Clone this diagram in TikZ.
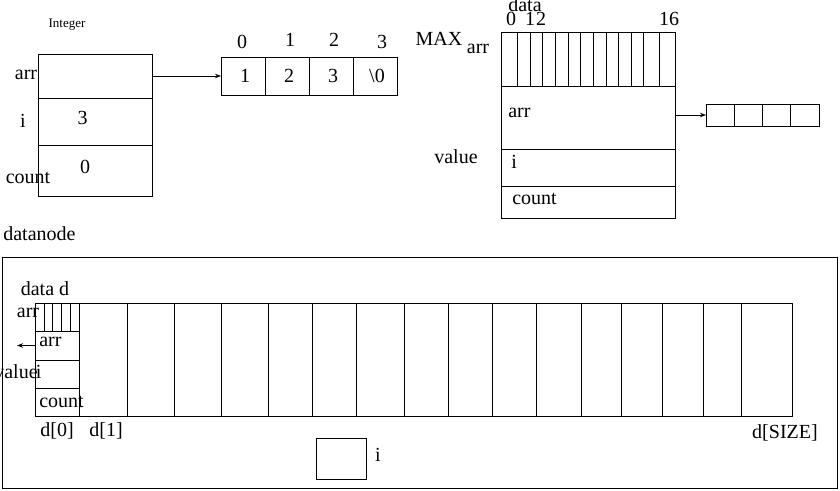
\documentclass[tikz,border=0pt]{standalone}
\usepackage{fontspec}
\setmainfont{Liberation Serif}
\usetikzlibrary{arrows.meta,positioning}

\begin{document}
\begin{tikzpicture}[x=1pt,y=-1pt,line width=0.7pt,
    box/.style={draw,inner sep=0pt,outer sep=0pt},
    txt/.style={inner sep=0pt,font=\fontsize{20}{24}\selectfont},
    ptr/.style={-{Stealth[length=6pt,width=4.5pt]}}]
    \useasboundingbox (0,0) rectangle (840,490);

    % Integer struct
    \node[txt,font=\fontsize{13}{15}\selectfont] (inttitle) at (67,25) {Integer};
    \node[box,minimum width=114pt,minimum height=44pt] (intarr) at (95,76) {};
    \node[box,minimum width=114pt,minimum height=47pt,below=0pt of intarr] (inti) {};
    \node[box,minimum width=114pt,minimum height=51pt,below=0pt of inti] (intcount) {};
    \node[txt,anchor=east] (intarrlbl) at (37.5,75) {arr};
    \node[txt] (intilbl) at (23,121) {i};
    \node[txt] (intcountlbl) at (28,178) {count};
    \node[txt] (intival) at (82.5,118) {3};
    \node[txt] (intcountval) at (85,167) {0};

    % the array it points to
    \foreach \v [count=\k from 0] in {1,2,3,\textbackslash0}
        \node[box,txt,draw,minimum width=44pt,minimum height=38pt] (a\k) at (243+44*\k,76) {\hspace{4pt}\v};
    \foreach \k/\xx/\yy in {0/242/41.5, 1/290/39.5, 2/334/39.5, 3/382/41.5}
        \node[txt] (idx\k) at (\xx,\yy) {\k};
    \draw[ptr] (intarr.east) -- (a0.west);

    % data struct
    \node[box,minimum width=174pt,minimum height=54pt] (dstripe) at (588,59) {};
    \foreach \xx in {517.3,530,542.7,555.7,568.3,580.7,593.3,606,618.3,631,643.3,659.3}
        \draw (\xx,32) -- (\xx,86);
    \node[box,minimum width=174pt,minimum height=63.7pt,below=0pt of dstripe] (darr) {};
    \node[box,minimum width=174pt,minimum height=37pt,below=0pt of darr] (di) {};
    \node[box,minimum width=174pt,minimum height=31.6pt,below=0pt of di] (dcount) {};
    \node[txt] (maxlbl) at (439,39) {MAX};
    \node[txt] (maxarr) at (478,49) {arr};
    \node[txt] (datalbl) at (525,4.5) {data};
    \node[txt] (idxlow) at (526,19) {0\hspace{9pt}1\hspace{1pt}2};
    \node[txt] (idxhigh) at (669,19) {16};
    \node[txt] (valuelbl) at (456,157) {value};
    \node[txt,anchor=west] (darrlbl) at (508,113) {arr};
    \node[txt,anchor=west] (dilbl) at (511,162) {i};
    \node[txt,anchor=west] (dcountlbl) at (512,199) {count};

    % the array arr points to
    \foreach \k in {0,...,3}
        \node[box,minimum width=28.25pt,minimum height=22pt] (s\k) at (720.1+28.25*\k,115) {};
    \draw[ptr] (darr.east |- s0.west) -- (s0.west);

    % datanode
    \node[txt,anchor=west] (nodelbl) at (3,234) {datanode};
    \node[box,minimum width=835pt,minimum height=231pt] (frame) at (419.5,372.5) {};
    \node[txt] (datad) at (45,289) {data d};
    \node[box,minimum width=757pt,minimum height=113pt] (drow) at (413.5,359.5) {};
    \foreach \xx in {79,127,174,221,268,312,356,404,448,492,536,581,621,662,703,741}
        \draw (\xx,303) -- (\xx,416);

    % d[0] drawn as a small data struct
    \foreach \xx in {44.3,52.7,61.7,70.7}
        \draw (\xx,303) -- (\xx,331);
    \node[box,minimum width=44pt,minimum height=29pt,anchor=north west] (d0arr) at (35,331) {};
    \node[box,minimum width=44pt,minimum height=28pt,below=0pt of d0arr] (d0i) {};
    \node[box,minimum width=44pt,minimum height=28pt,below=0pt of d0i] (d0count) {};
    \node[txt] (d0maxarr) at (28,313) {arr};
    \node[txt,anchor=west] (d0arrlbl) at (39,342) {arr};
    \node[txt,anchor=east] (d0value) at (38,372) {value};
    \node[txt,anchor=west] (d0ilbl) at (35.5,372) {i};
    \node[txt,anchor=west] (d0countlbl) at (39,402) {count};
    \coordinate (d0out) at (17,345.5);
    \draw[ptr] (d0arr.west) -- (d0out);

    \node[txt] (d0lbl) at (57,431) {d[0]};
    \node[txt] (d1lbl) at (106,431) {d[1]};
    \node[txt] (dsizelbl) at (785,433) {d[SIZE]};

    % index variable
    \node[box,minimum width=50pt,minimum height=41pt] (ibox) at (341,458.5) {};
    \node[txt] (iboxlbl) at (378,455) {i};
\end{tikzpicture}
\end{document}
